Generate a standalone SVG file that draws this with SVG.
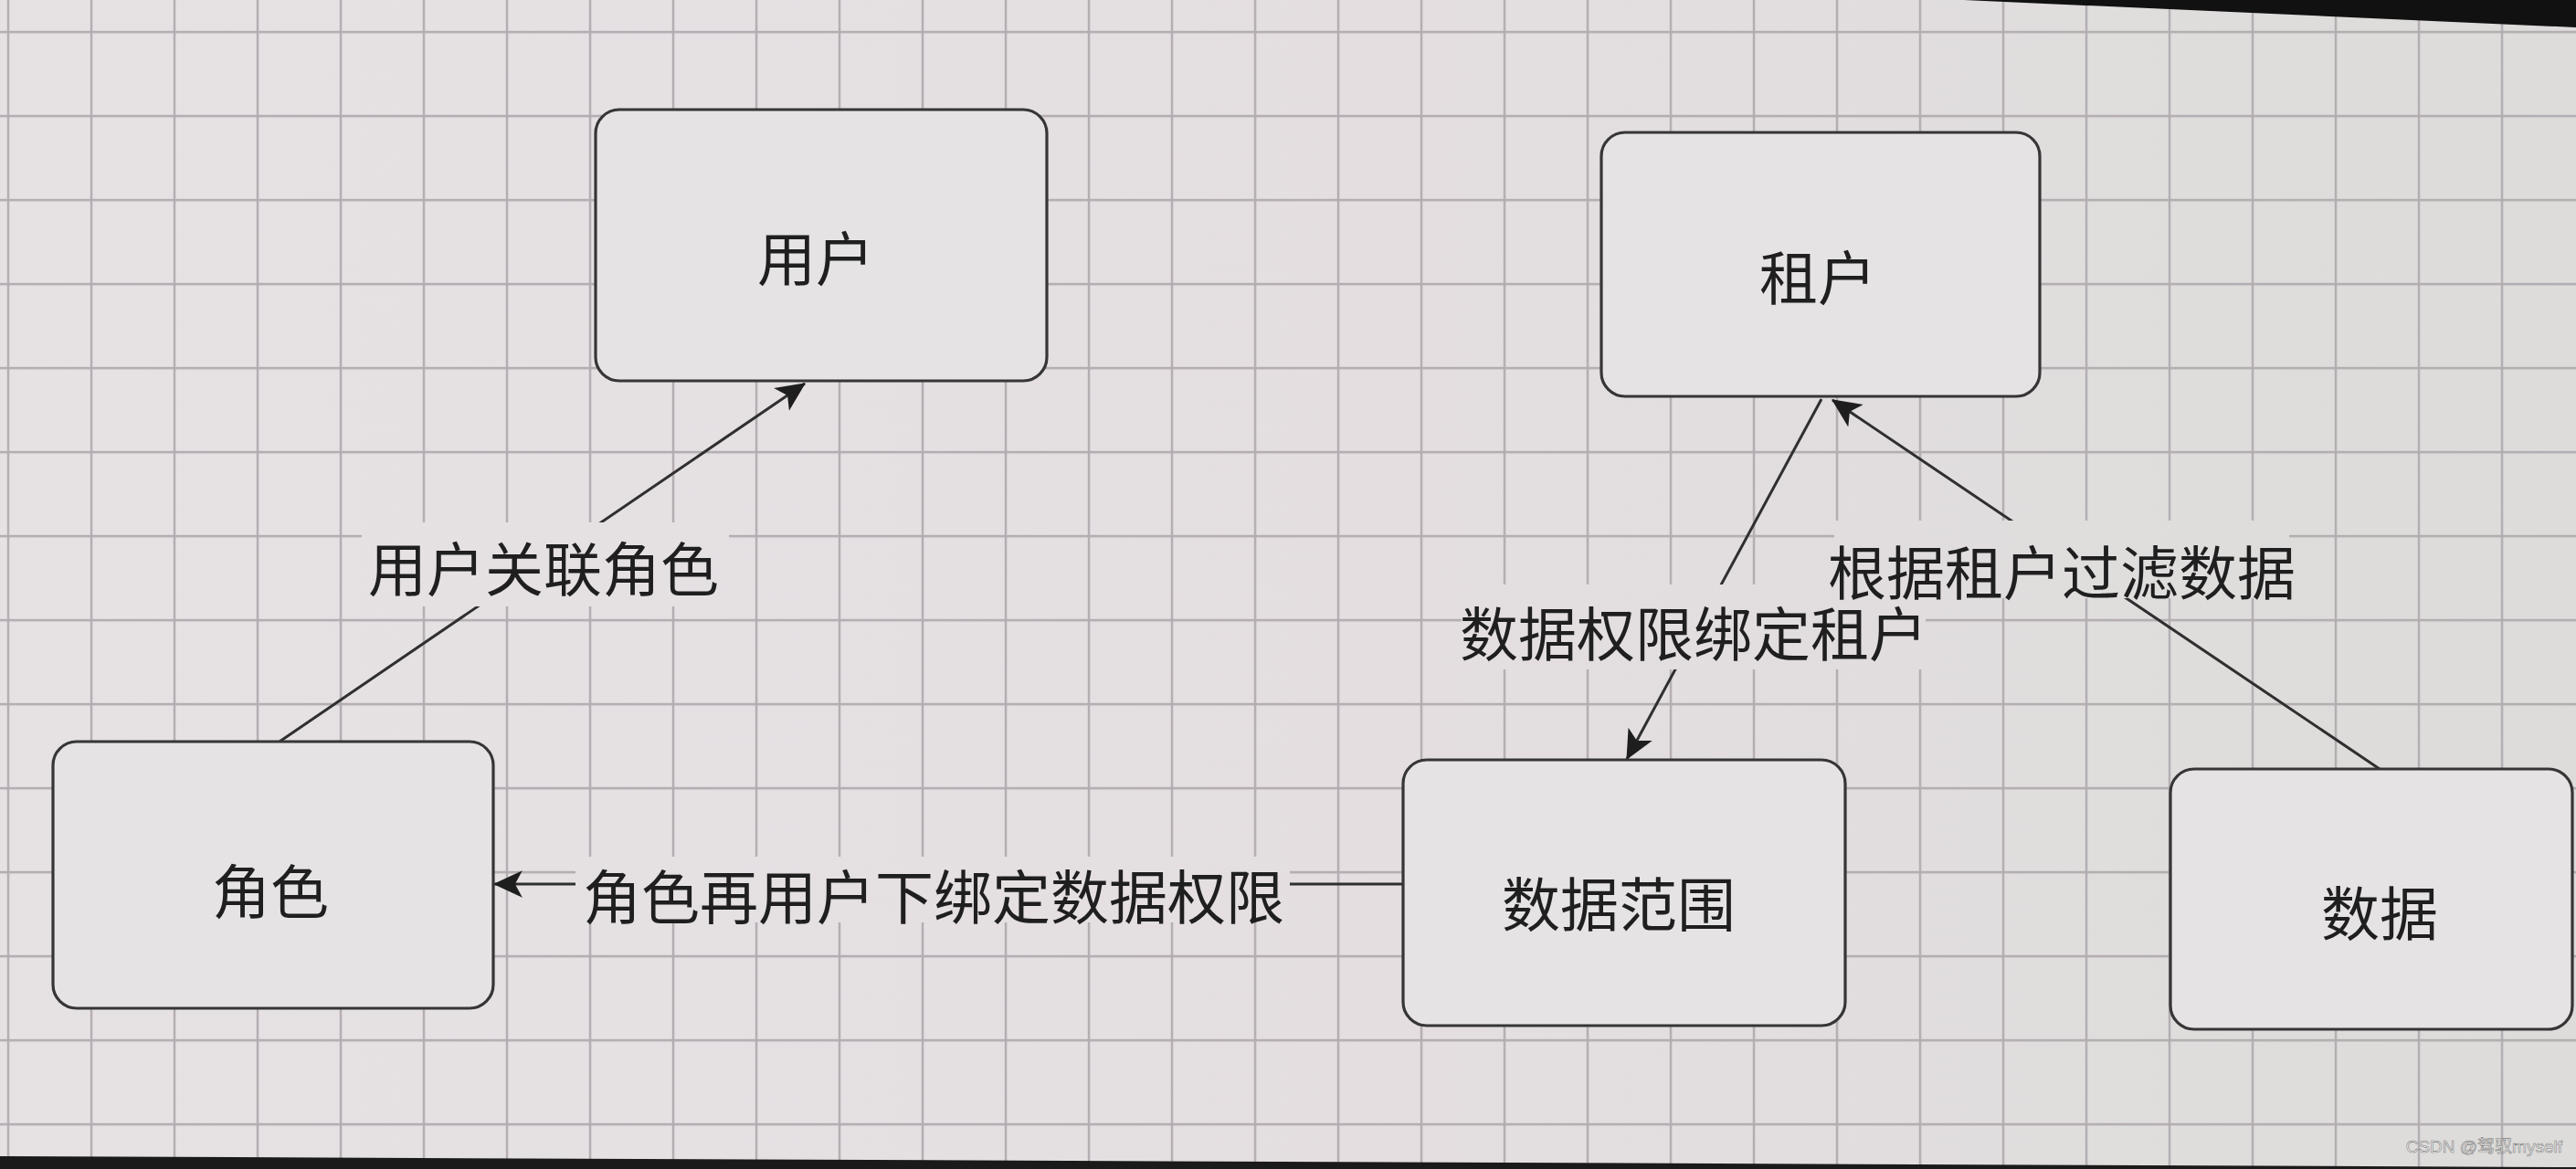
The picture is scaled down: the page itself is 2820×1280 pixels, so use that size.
<svg xmlns="http://www.w3.org/2000/svg" width="2820" height="1280" viewBox="0 0 2820 1280">
<style>
.box{fill:#e6e3e5;stroke:#363636;stroke-width:3.2}
.t{font-family:"Noto Sans CJK SC","Noto Sans",sans-serif;font-size:64px;fill:#1f1f1f;text-anchor:middle;dominant-baseline:central}
.lbg{fill:url(#bg)}
.c{stroke:#2f2f2f;stroke-width:3;fill:none}
</style>
<defs>
<linearGradient id="bg" gradientUnits="userSpaceOnUse" x1="0" y1="0" x2="2820" y2="0">
<stop offset="0" stop-color="#e6e2e4"/>
<stop offset="0.55" stop-color="#e4dee1"/>
<stop offset="1" stop-color="#dddcda"/>
</linearGradient>
<pattern id="grid" patternUnits="userSpaceOnUse" x="7.8" y="33.8" width="91" height="92">
<path d="M1.2 0V92M0 1.2H91" stroke="#b2acb0" stroke-width="2.4" fill="none"/>
</pattern>
<marker id="arr" markerUnits="userSpaceOnUse" markerWidth="32" markerHeight="32" viewBox="0 0 28 26" refX="27" refY="13" orient="auto">
<path d="M28 13L0 0L7 13L0 26Z" fill="#1e1e1e"/>
</marker>
</defs>
<rect width="2820" height="1280" fill="url(#bg)"/>
<rect width="2820" height="1280" fill="url(#grid)"/>
<polygon points="2150,0 2820,0 2820,30" fill="#111"/>
<polygon points="0,1266 2820,1278 2820,1280 0,1280" fill="#1a1a1a"/>

<g id="connectors">
<path class="c" d="M306 812L881 420" marker-end="url(#arr)"/>
<path class="c" d="M1994 437L1781 831" marker-end="url(#arr)"/>
<path class="c" d="M2605 842L2006 438" marker-end="url(#arr)"/>
<path class="c" d="M1536 968L541 968" marker-end="url(#arr)"/>
<rect class="lbg" x="396" y="572" width="402" height="92"/>
<text class="t" x="595" y="619">用户关联角色</text>
<rect class="lbg" x="1600" y="640" width="508" height="93"/>
<text class="t" x="1854" y="690">数据权限绑定租户</text>
<rect class="lbg" x="2008" y="570" width="498" height="85"/>
<text class="t" x="2257" y="623">根据租户过滤数据</text>
<rect class="lbg" x="630" y="938" width="782" height="72"/>
<text class="t" x="1022" y="978">角色再用户下绑定数据权限</text>
</g>

<g id="node-user">
<rect class="box" x="652" y="120" width="494" height="297" rx="26"/>
<text class="t" x="893" y="279">用户</text>
</g>
<g id="node-tenant">
<rect class="box" x="1753" y="145" width="480" height="289" rx="26"/>
<text class="t" x="1990" y="300">租户</text>
</g>
<g id="node-role">
<rect class="box" x="58" y="812" width="482" height="292" rx="26"/>
<text class="t" x="296" y="972">角色</text>
</g>
<g id="node-scope">
<rect class="box" x="1536" y="832" width="484" height="291" rx="26"/>
<text class="t" x="1772" y="986">数据范围</text>
</g>
<g id="node-data">
<rect class="box" x="2376" y="842" width="440" height="285" rx="26"/>
<text class="t" x="2605" y="996">数据</text>
</g>
<text x="2805" y="1262" font-family="Liberation Sans,Noto Sans CJK SC,sans-serif" font-size="19" fill="#f4f4f4" stroke="#7a7a7a" stroke-width="0.6" text-anchor="end">CSDN @驾驭myself</text>
</svg>
